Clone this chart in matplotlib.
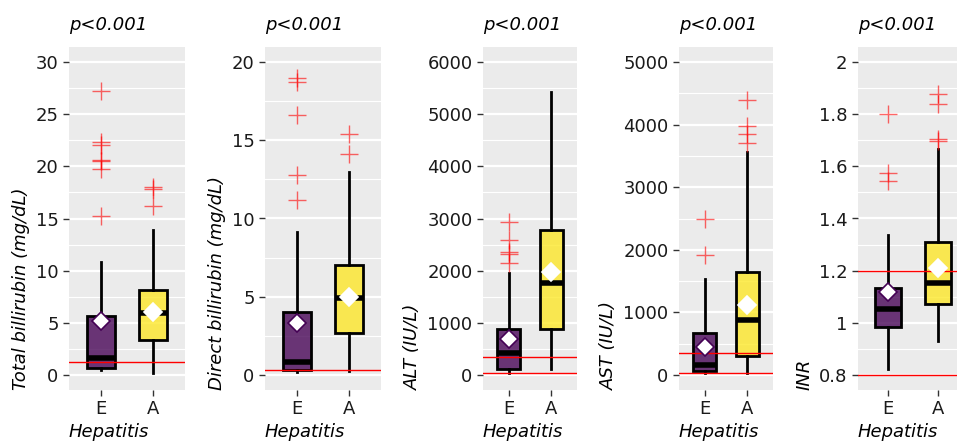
import numpy as np
import matplotlib.pyplot as plt
from matplotlib.ticker import MultipleLocator, FixedLocator

# groups
groups = ['E', 'A']
box_colors = ['#440154', '#FDE725']
mean_edges = ['#440154', '#FFFFFF']

# [whislo, q1, median, q3, whishi] per group
tbil_q = [[0.45, 0.64, 1.66, 5.66, 10.8], [0.2, 3.36, 5.9, 8.15, 13.9]]
tbil_mean = [5.2, 6.05]
tbil_out = [[27.2, 22.3, 22.0, 20.6, 20.5, 19.7, 15.2], [18.0, 17.8, 16.2]]
tbil_ref = [1.2]

dbil_q = [[0.2, 0.35, 0.85, 4.0, 9.15], [0.25, 2.66, 4.9, 7.0, 13.0]]
dbil_mean = [3.3, 5.0]
dbil_out = [[19.0, 18.7, 16.6, 12.8, 11.2], [15.4, 14.1]]
dbil_ref = [0.3]

alt_q = [[30, 115, 415, 880, 1950], [110, 875, 1770, 2780, 5430]]
alt_mean = [700, 1980]
alt_out = [[2940, 2590, 2350, 2320, 2140], []]
alt_ref = [35, 350]

ast_q = [[27, 70, 160, 675, 1530], [37, 300, 880, 1650, 3570]]
ast_mean = [450, 1120]
ast_out = [[2500, 1920], [4400, 3980, 3850, 3710]]
ast_ref = [35, 350]

inr_q = [[0.822, 0.985, 1.052, 1.135, 1.335], [0.932, 1.072, 1.154, 1.308, 1.667]]
inr_mean = [1.117, 1.212]
inr_out = [[1.80, 1.573, 1.543], [1.876, 1.839, 1.705, 1.696]]
inr_ref = [0.8, 1.2]

ylabels = ['Total billirubin (mg/dL)', 'Direct billirubin (mg/dL)',
           'ALT (IU/L)', 'AST (IU/L)', 'INR']

panels = [
    (tbil_q, tbil_mean, tbil_out, tbil_ref),
    (dbil_q, dbil_mean, dbil_out, dbil_ref),
    (alt_q, alt_mean, alt_out, alt_ref),
    (ast_q, ast_mean, ast_out, ast_ref),
    (inr_q, inr_mean, inr_out, inr_ref),
]

ylims = [(-1.44, 31.44), (-0.96, 20.96), (-287, 6287), (-240, 5240), (0.7425, 2.0575)]
major = [5, 5, 1000, 1000, 0.2]

# axes placement in pixels (left, width)
W, H = 957, 441
ax_px = [(69, 116), (265, 116), (483, 94), (679, 94), (858, 110)]
top_px, bot_px = 47, 390

fig = plt.figure(figsize=(W / 100, H / 100), dpi=100)

for i, (q, means, outs, refs) in enumerate(panels):
    left, width = ax_px[i]
    ax = fig.add_axes([left / W, 1 - bot_px / H, width / W, (bot_px - top_px) / H])
    ax.set_facecolor('#EBEBEB')
    for s in ax.spines.values():
        s.set_visible(False)

    stats = []
    for j in range(2):
        lo, q1, med, q3, hi = q[j]
        stats.append(dict(whislo=lo, q1=q1, med=med, q3=q3, whishi=hi,
                          fliers=outs[j], label=groups[j]))
    bp = ax.bxp(stats, positions=[1, 2], widths=0.53, showcaps=False,
                patch_artist=True, zorder=3,
                boxprops=dict(edgecolor='black', linewidth=2),
                whiskerprops=dict(color='black', linewidth=2),
                medianprops=dict(color='black', linewidth=4),
                flierprops=dict(marker='+', markeredgecolor='red', alpha=0.6,
                                markersize=13, markeredgewidth=1.0, linestyle='none'))
    for patch, c in zip(bp['boxes'], box_colors):
        r, g, b = plt.matplotlib.colors.to_rgb(c)
        patch.set_facecolor((r, g, b, 0.78))

    for j in range(2):
        ax.plot(j + 1, means[j], marker='D', markersize=9, markerfacecolor='white',
                markeredgecolor=mean_edges[j], markeredgewidth=1.2, zorder=5)

    for r in refs:
        ax.axhline(r, color='red', linewidth=1, zorder=4)

    ax.set_xlim(0.4, 2.6)
    ax.set_ylim(*ylims[i])
    ax.yaxis.set_major_locator(MultipleLocator(major[i]))
    ax.yaxis.set_minor_locator(MultipleLocator(major[i] / 2))
    ax.set_axisbelow(True)
    ax.yaxis.grid(True, which='major', color='white', linewidth=1.6, zorder=0)
    ax.yaxis.grid(True, which='minor', color='white', linewidth=0.8, zorder=0)
    ax.tick_params(axis='both', which='major', length=4, width=1, color='#333333',
                   labelsize=13, labelcolor='#1a1a1a')
    ax.tick_params(axis='y', which='minor', length=0)
    if i == 4:
        ticks = [0.8, 1.0, 1.2, 1.4, 1.6, 1.8, 2.0]
        ax.yaxis.set_major_locator(FixedLocator(ticks))
        ax.set_yticklabels(['0.8', '1', '1.2', '1.4', '1.6', '1.8', '2'])
    ax.set_xticks([1, 2])
    ax.set_xticklabels(groups)

    ax.set_ylabel(ylabels[i], fontsize=13, style='italic', loc='bottom', labelpad=4)
    ax.set_xlabel('Hepatitis', fontsize=13, style='italic', loc='left', labelpad=3)
    ax.set_title('p<0.001', fontsize=13, style='italic', loc='left', pad=12)

fig.savefig('out.png', dpi=100)
